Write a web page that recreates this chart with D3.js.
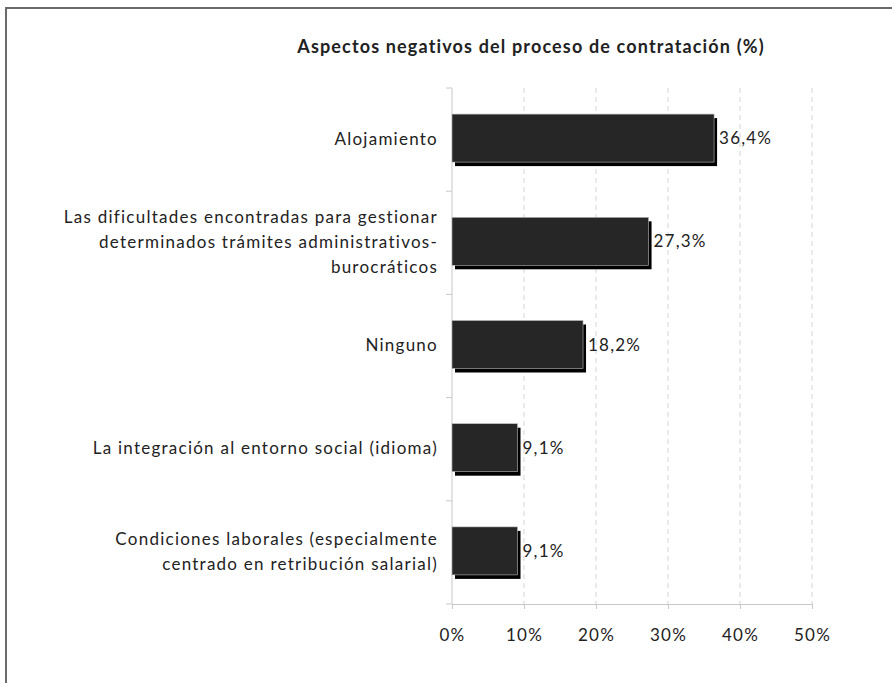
<!DOCTYPE html>
<html><head><meta charset="utf-8">
<script src="https://cdn.jsdelivr.net/npm/d3@7"></script>
<style>body{margin:0;background:#fff}svg{display:block}text{font-family:Lato,"Open Sans",sans-serif;fill:#222}</style>
</head><body>
<svg id="c" width="892" height="683"></svg>
<script>
const title = "Aspectos negativos del proceso de contratación (%)";
const categories = [
  ["Alojamiento"],
  ["Las dificultades encontradas para gestionar","determinados trámites administrativos-","burocráticos"],
  ["Ninguno"],
  ["La integración al entorno social (idioma)"],
  ["Condiciones laborales (especialmente","centrado en retribución salarial)"]
];
const values = [36.4, 27.3, 18.2, 9.1, 9.1];
const valueLabels = ["36,4%","27,3%","18,2%","9,1%","9,1%"];
const ticks = [0,10,20,30,40,50];

const svg = d3.select("#c");
svg.append("rect").attr("x",6).attr("y",8).attr("width",900).attr("height",700)
  .attr("fill","none").attr("stroke","#6a6a6a").attr("stroke-width",2);

const m = {left:452, right:812, top:88, bottom:604};
const x = d3.scaleLinear().domain([0,50]).range([m.left,m.right]);
const y = d3.scaleBand().domain(d3.range(categories.length)).range([m.top,m.bottom]).paddingInner(0).paddingOuter(0);

svg.append("text").attr("x",531).attr("y",53).attr("text-anchor","middle")
  .attr("font-size",18).attr("font-weight","bold").attr("letter-spacing",1.15).text(title);

// gridlines
svg.append("g").selectAll("line").data(ticks.slice(1)).join("line")
  .attr("x1",d=>x(d)).attr("x2",d=>x(d)).attr("y1",m.top).attr("y2",m.bottom)
  .attr("stroke","#d4d4d4").attr("stroke-dasharray","5,4");

// x axis
const xa = svg.append("g").attr("transform",`translate(0,${m.bottom})`)
  .call(d3.axisBottom(x).tickValues(ticks).tickFormat(d=>d+"%").tickSize(5).tickPadding(20));
xa.select(".domain").attr("stroke","#c8c8c8");
xa.selectAll(".tick line").attr("stroke","#c8c8c8");
xa.selectAll("text").attr("font-size",17).attr("letter-spacing",1.2).style("font-family","Lato,sans-serif").attr("fill","#222");

// y axis line + ticks at band boundaries
svg.append("line").attr("x1",m.left).attr("x2",m.left).attr("y1",m.top).attr("y2",m.bottom).attr("stroke","#c8c8c8");
svg.append("g").selectAll("line").data(d3.range(categories.length+1)).join("line")
  .attr("x1",m.left-6).attr("x2",m.left)
  .attr("y1",d=>m.top+d*y.step()).attr("y2",d=>m.top+d*y.step()).attr("stroke","#c8c8c8");

const bh = 48;
const g = svg.append("g");
values.forEach((v,i)=>{
  const cy = y(i)+y.bandwidth()/2 - 1.5;
  g.append("rect").attr("x",x(0)+3).attr("y",cy-bh/2+4).attr("width",x(v)-x(0)).attr("height",bh).attr("fill","#000");
  g.append("rect").attr("x",x(0)).attr("y",cy-bh/2).attr("width",x(v)-x(0)).attr("height",bh).attr("fill","#262626")
    .attr("stroke","#bbb").attr("stroke-width",0.6);
  g.append("text").attr("x",x(v)+5).attr("y",cy+6).attr("font-size",17).attr("letter-spacing",1.2).text(valueLabels[i]);
  const lines = categories[i];
  const lh = 25;
  lines.forEach((t,j)=>{
    g.append("text").attr("x",438).attr("y",y(i)+y.bandwidth()/2 + (j-(lines.length-1)/2)*lh + 5)
      .attr("text-anchor","end").attr("font-size",17).attr("letter-spacing",1.25).text(t);
  });
});
</script>
</body></html>
